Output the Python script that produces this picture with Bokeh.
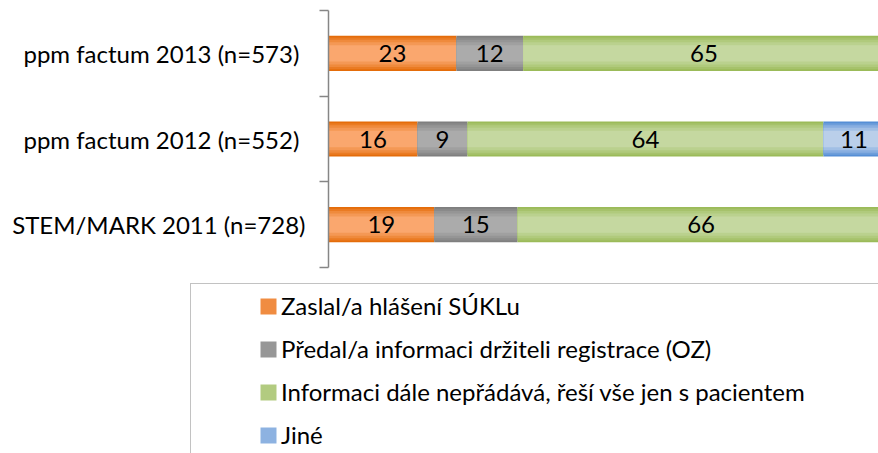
import numpy as np
from bokeh.plotting import figure
from bokeh.models import ColumnDataSource, Range1d, FixedTicker, Legend, LegendItem
from bokeh.core.properties import value
from bokeh.embed import file_html
from bokeh.resources import INLINE

# ---- data (bottom to top) ----
categories = ["STEM/MARK 2011 (n=728)", "ppm factum  2012 (n=552)", "ppm factum  2013 (n=573)"]
series_names = [
    "Zaslal/a hlášení SÚKLu",
    "Předal/a informaci držiteli registrace (OZ)",
    "Informaci dále nepřádává, řeší vše jen s pacientem",
    "Jiné",
]
zaslal = [19, 16, 23]
predal = [15, 9, 12]
informaci = [66, 64, 65]
jine = [0, 11, 0]

series_values = [zaslal, predal, informaci, jine]
# (edge, centre) shades to imitate the vertical gradient
series_colors = [
    ("#E46C0A", "#FAA76E"),
    ("#7F7F7F", "#ABABAB"),
    ("#9BBB59", "#C5D8A0"),
    ("#558ED5", "#BACFEA"),
]
layer_heights = [0.41, 0.37, 0.32, 0.26, 0.19]


def blend(c1, c2, t):
    a = [int(c1[i:i + 2], 16) for i in (1, 3, 5)]
    b = [int(c2[i:i + 2], 16) for i in (1, 3, 5)]
    return "#" + "".join(f"{round(x + (y - x) * t):02x}" for x, y in zip(a, b))


FONT = "Lato"
FS = "24px"

p = figure(width=878, height=280, output_backend="svg", toolbar_location=None,
           x_range=Range1d(0, 98.9), y_range=Range1d(0, 3),
           min_border_left=328, min_border_right=0, min_border_top=10,
           min_border_bottom=13, x_axis_location=None,
           outline_line_color=None)
p.grid.visible = False

lp = figure(width=878, height=173, output_backend="svg", toolbar_location=None,
            x_range=Range1d(0, 1), y_range=Range1d(100, 101),
            min_border_left=0, min_border_right=0, min_border_top=0,
            min_border_bottom=0, x_axis_location=None, y_axis_location=None,
            outline_line_color=None)
lp.grid.visible = False

ypos = np.arange(len(categories)) + 0.5
cum = np.zeros(len(categories))
legend_items = []
n = len(layer_heights)
for name, vals, cols in zip(series_names, series_values, series_colors):
    vals = np.array(vals, dtype=float)
    left = cum.copy()
    right = cum + vals
    cum = right
    src = ColumnDataSource(dict(y=ypos, left=left, right=right))
    for k, h in enumerate(layer_heights):
        p.hbar(y="y", left="left", right="right", height=h, source=src,
               fill_color=blend(cols[0], cols[1], k / (n - 1)), line_color=None)
    # legend swatch renderer (lies outside the legend figure's view)
    r = lp.hbar(y="y", left="left", right="right", height=0.4, source=src,
                fill_color=blend(cols[0], cols[1], 0.55), line_color=None)
    legend_items.append(LegendItem(label=name, renderers=[r]))
    mask = vals > 0
    lsrc = ColumnDataSource(dict(x=((left + right) / 2)[mask], y=ypos[mask],
                                 t=[str(int(v)) for v in vals[mask]]))
    p.text(x="x", y="y", text="t", source=lsrc, text_align="center",
           text_baseline="middle", text_font=value(FONT),
           text_font_size=value(FS), text_color="#000000")

ax = p.yaxis[0]
ax.ticker = FixedTicker(ticks=list(ypos), minor_ticks=[0, 1, 2, 3])
ax.major_label_overrides = {float(y): c for y, c in zip(ypos, categories)}
ax.major_tick_line_color = None
ax.major_tick_out = 0
ax.major_tick_in = 0
ax.minor_tick_line_color = "#868686"
ax.minor_tick_out = 9
ax.minor_tick_in = 0
ax.minor_tick_line_width = 1.5
ax.axis_line_color = "#868686"
ax.axis_line_width = 1.5
ax.major_label_standoff = 14
ax.major_label_text_font = FONT
ax.major_label_text_font_size = FS
ax.major_label_text_color = "#000000"

legend = Legend(items=legend_items, location=(190, -4), orientation="vertical",
                padding=7, spacing=14, glyph_width=20, glyph_height=20,
                label_height=20, label_standoff=3, label_width=620,
                label_text_font=FONT, label_text_font_size=FS,
                label_text_color="#000000",
                border_line_color="#868686", border_line_width=1.5,
                background_fill_color="white", background_fill_alpha=1,
                title=" ", title_location="left", title_standoff=44,
                title_text_font_size="14px", margin=0)
lp.add_layout(legend, "center")

open("out.html", "w").write(file_html([p, lp], INLINE))
